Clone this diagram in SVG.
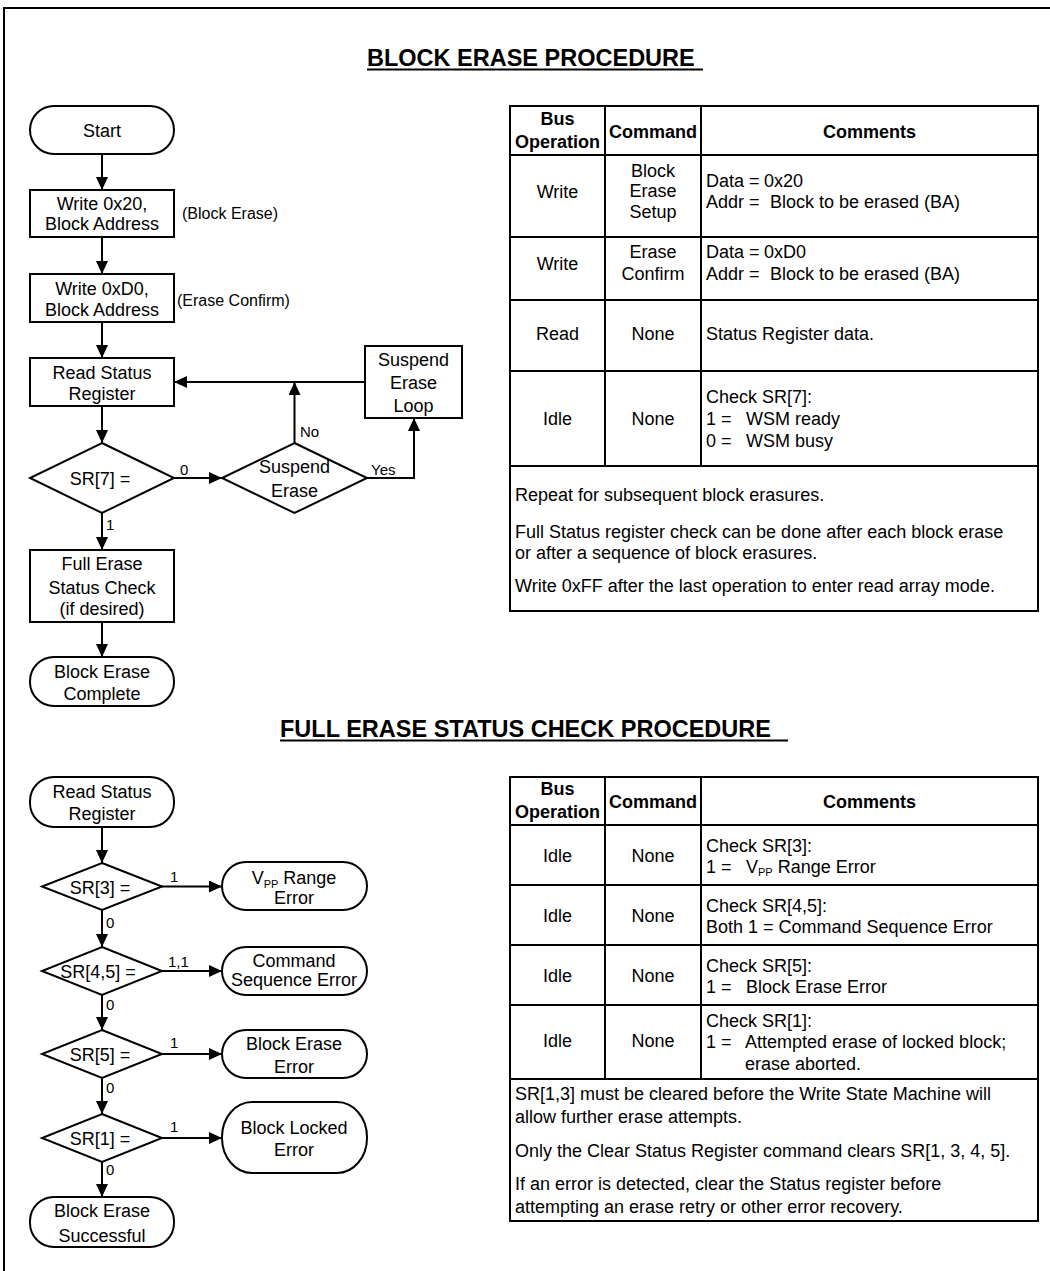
<svg xmlns="http://www.w3.org/2000/svg" width="1050" height="1271" viewBox="0 0 1050 1271">
<style>
text{font-family:"Liberation Sans",Arial,sans-serif;font-size:18px;fill:#000}
.c{text-anchor:middle}
.b{font-weight:bold}
.s{font-size:15px}
.m{font-size:16px}
.ttl{font-size:23.5px;font-weight:bold}
.box{fill:#fff;stroke:#000;stroke-width:2}
.ln{fill:none;stroke:#000;stroke-width:2}
.conn path{fill:none;stroke:#000;stroke-width:2;marker-end:url(#ah)}
.sub{font-size:11px}
</style>
<defs>
<marker id="ah" markerWidth="13" markerHeight="12" refX="13" refY="6" orient="auto" markerUnits="userSpaceOnUse"><path d="M0,0 L13,6 L0,12 z" fill="#000"/></marker>
</defs>
<rect x="0" y="0" width="1050" height="1271" fill="#fff"/>
<path class="ln" d="M4,1271 V8 H1050"/>

<!-- Titles -->
<g id="title1"><text class="ttl" x="367" y="66">BLOCK ERASE PROCEDURE</text><line class="ln" x1="367" y1="69.5" x2="703" y2="69.5"/></g>
<g id="title2"><text class="ttl" x="280" y="737">FULL ERASE STATUS CHECK PROCEDURE</text><line class="ln" x1="280" y1="740.5" x2="788" y2="740.5"/></g>

<!-- Connectors -->
<g id="connectors" class="conn">
<path d="M102,154 V190"/>
<path d="M102,237 V274"/>
<path d="M102,322 V358"/>
<path d="M102,406 V443"/>
<path d="M174,478 H222"/>
<path d="M294.5,443 V382"/>
<path d="M365,382 H174"/>
<path d="M367,478 H414 V418"/>
<path d="M102,513 V550"/>
<path d="M102,622 V657"/>
<path d="M102,827 V863"/>
<path d="M162,886.5 H222"/>
<path d="M102,910 V947"/>
<path d="M162,971 H222"/>
<path d="M102,995 V1030"/>
<path d="M162,1054 H222"/>
<path d="M102,1078 V1114"/>
<path d="M162,1138 H222"/>
<path d="M102,1162 V1197"/>
</g>
<g id="conn-labels">
<text class="s" x="180" y="475">0</text>
<text class="s" x="300" y="437">No</text>
<text class="s" x="371" y="475">Yes</text>
<text class="s" x="106" y="530">1</text>
<text class="s" x="170" y="882">1</text>
<text class="s" x="106" y="928">0</text>
<text class="s" x="168" y="967">1,1</text>
<text class="s" x="106" y="1010">0</text>
<text class="s" x="170" y="1048">1</text>
<text class="s" x="106" y="1093">0</text>
<text class="s" x="170" y="1132">1</text>
<text class="s" x="106" y="1175">0</text>
</g>

<!-- Block erase flowchart -->
<g id="n-start"><rect class="box" x="30" y="106" width="144" height="48" rx="24" ry="24"/><text class="c" x="102" y="136.5">Start</text></g>
<g id="n-write20"><rect class="box" x="30" y="190" width="144" height="47"/><text class="c" x="102" y="210">Write 0x20,</text><text class="c" x="102" y="230">Block Address</text></g>
<g id="n-lbl-be"><text class="m" x="182" y="219">(Block Erase)</text></g>
<g id="n-writeD0"><rect class="box" x="30" y="274" width="144" height="48"/><text class="c" x="102" y="294.5">Write 0xD0,</text><text class="c" x="102" y="315.5">Block Address</text></g>
<g id="n-lbl-ec"><text class="m" x="177" y="305.5">(Erase Confirm)</text></g>
<g id="n-readsr"><rect class="box" x="30" y="358" width="144" height="48"/><text class="c" x="102" y="378.5">Read Status</text><text class="c" x="102" y="399.5">Register</text></g>
<g id="n-sr7"><polygon class="box" points="102,443 174,478 102,513 30,478"/><text class="c" x="100" y="484.5">SR[7] =</text></g>
<g id="n-suspend"><polygon class="box" points="294.5,443 367,478 294.5,513 222,478"/><text class="c" x="294.5" y="472.5">Suspend</text><text class="c" x="294.5" y="496.5">Erase</text></g>
<g id="n-loop"><rect class="box" x="365" y="346" width="97" height="72"/><text class="c" x="413.5" y="365.5">Suspend</text><text class="c" x="413.5" y="388.5">Erase</text><text class="c" x="413.5" y="411.5">Loop</text></g>
<g id="n-full"><rect class="box" x="30" y="550" width="144" height="72"/><text class="c" x="102" y="569.5">Full Erase</text><text class="c" x="102" y="593.5">Status Check</text><text class="c" x="102" y="614.5">(if desired)</text></g>
<g id="n-complete"><rect class="box" x="30" y="657" width="144" height="49" rx="24" ry="24"/><text class="c" x="102" y="677.5">Block Erase</text><text class="c" x="102" y="699.5">Complete</text></g>

<!-- Full status flowchart -->
<g id="m-readsr"><rect class="box" x="30" y="777" width="144" height="50" rx="24" ry="24"/><text class="c" x="102" y="797.5">Read Status</text><text class="c" x="102" y="819.5">Register</text></g>
<g id="m-sr3"><polygon class="box" points="102,863 162,886.5 102,910 42,886.5"/><text class="c" x="100" y="893.5">SR[3] =</text></g>
<g id="m-vpp"><rect class="box" x="222" y="862" width="145" height="48" rx="24" ry="24"/><text class="c" x="294" y="883.5">V<tspan class="sub" dy="4">PP</tspan><tspan dy="-4"> Range</tspan></text><text class="c" x="294" y="903.5">Error</text></g>
<g id="m-sr45"><polygon class="box" points="102,947 162,971 102,995 42,971"/><text class="c" x="98" y="977.5">SR[4,5] =</text></g>
<g id="m-cmdseq"><rect class="box" x="222" y="947" width="145" height="48" rx="24" ry="24"/><text class="c" x="294" y="966.5">Command</text><text class="c" x="294" y="986">Sequence Error</text></g>
<g id="m-sr5"><polygon class="box" points="102,1030 162,1054 102,1078 42,1054"/><text class="c" x="100" y="1060.5">SR[5] =</text></g>
<g id="m-beerr"><rect class="box" x="222" y="1030" width="145" height="48" rx="24" ry="24"/><text class="c" x="294" y="1049.5">Block Erase</text><text class="c" x="294" y="1072.5">Error</text></g>
<g id="m-sr1"><polygon class="box" points="102,1114 162,1138 102,1162 42,1138"/><text class="c" x="100" y="1144.5">SR[1] =</text></g>
<g id="m-locked"><rect class="box" x="222" y="1102" width="145" height="71" rx="30" ry="35"/><text class="c" x="294" y="1133.5">Block Locked</text><text class="c" x="294" y="1155.5">Error</text></g>
<g id="m-success"><rect class="box" x="30" y="1197" width="144" height="50" rx="24" ry="24"/><text class="c" x="102" y="1216.5">Block Erase</text><text class="c" x="102" y="1241.5">Successful</text></g>

<!-- Table 1 -->
<g id="table1">
<rect class="box" x="510" y="106" width="528" height="505"/>
<path class="ln" d="M510,155 H1038 M510,237 H1038 M510,300 H1038 M510,371 H1038 M510,466 H1038 M605,106 V466 M701,106 V466"/>
<text class="c b" x="557.5" y="125">Bus</text><text class="c b" x="557.5" y="148">Operation</text>
<text class="c b" x="653" y="138">Command</text>
<text class="c b" x="869.5" y="138">Comments</text>
<text class="c" x="557.5" y="198">Write</text>
<text class="c" x="653" y="176.5">Block</text><text class="c" x="653" y="197">Erase</text><text class="c" x="653" y="218">Setup</text>
<text x="706" y="186.5">Data =</text><text x="764" y="186.5">0x20</text>
<text x="706" y="208">Addr =</text><text x="770" y="208">Block to be erased (BA)</text>
<text class="c" x="557.5" y="269.5">Write</text>
<text class="c" x="653" y="258">Erase</text><text class="c" x="653" y="279.5">Confirm</text>
<text x="706" y="258">Data =</text><text x="764" y="258">0xD0</text>
<text x="706" y="279.5">Addr =</text><text x="770" y="279.5">Block to be erased (BA)</text>
<text class="c" x="557.5" y="339.5">Read</text>
<text class="c" x="653" y="339.5">None</text>
<text x="706" y="339.5">Status Register data.</text>
<text class="c" x="557.5" y="425">Idle</text>
<text class="c" x="653" y="425">None</text>
<text x="706" y="403">Check SR[7]:</text>
<text x="706" y="425">1 =</text><text x="746" y="425">WSM ready</text>
<text x="706" y="447">0 =</text><text x="746" y="447">WSM busy</text>
<text x="515" y="500.5">Repeat for subsequent block erasures.</text>
<text x="515" y="537.5">Full Status register check can be done after each block erase</text>
<text x="515" y="558.5">or after a sequence of block erasures.</text>
<text x="515" y="591.5">Write 0xFF after the last operation to enter read array mode.</text>
</g>

<!-- Table 2 -->
<g id="table2">
<rect class="box" x="510" y="777" width="528" height="444"/>
<path class="ln" d="M510,825 H1038 M510,885 H1038 M510,945 H1038 M510,1005 H1038 M510,1079 H1038 M605,777 V1079 M701,777 V1079"/>
<text class="c b" x="557.5" y="795">Bus</text><text class="c b" x="557.5" y="818">Operation</text>
<text class="c b" x="653" y="808">Command</text>
<text class="c b" x="869.5" y="808">Comments</text>
<text class="c" x="557.5" y="862">Idle</text><text class="c" x="653" y="862">None</text>
<text x="706" y="851.5">Check SR[3]:</text>
<text x="706" y="873">1 =</text><text x="746" y="873">V<tspan class="sub" dy="3">PP</tspan><tspan dy="-3"> Range Error</tspan></text>
<text class="c" x="557.5" y="922">Idle</text><text class="c" x="653" y="922">None</text>
<text x="706" y="911.5">Check SR[4,5]:</text>
<text x="706" y="933">Both 1 = Command Sequence Error</text>
<text class="c" x="557.5" y="982">Idle</text><text class="c" x="653" y="982">None</text>
<text x="706" y="971.5">Check SR[5]:</text>
<text x="706" y="993">1 =</text><text x="746" y="993">Block Erase Error</text>
<text class="c" x="557.5" y="1047">Idle</text><text class="c" x="653" y="1047">None</text>
<text x="706" y="1026.5">Check SR[1]:</text>
<text x="706" y="1048">1 =</text><text x="745" y="1048">Attempted erase of locked block;</text>
<text x="745" y="1070">erase aborted.</text>
<text x="515" y="1100">SR[1,3] must be cleared before the Write State Machine will</text>
<text x="515" y="1122.5">allow further erase attempts.</text>
<text x="515" y="1157">Only the Clear Status Register command clears SR[1, 3, 4, 5].</text>
<text x="515" y="1190">If an error is detected, clear the Status register before</text>
<text x="515" y="1212.5">attempting an erase retry or other error recovery.</text>
</g>
</svg>
